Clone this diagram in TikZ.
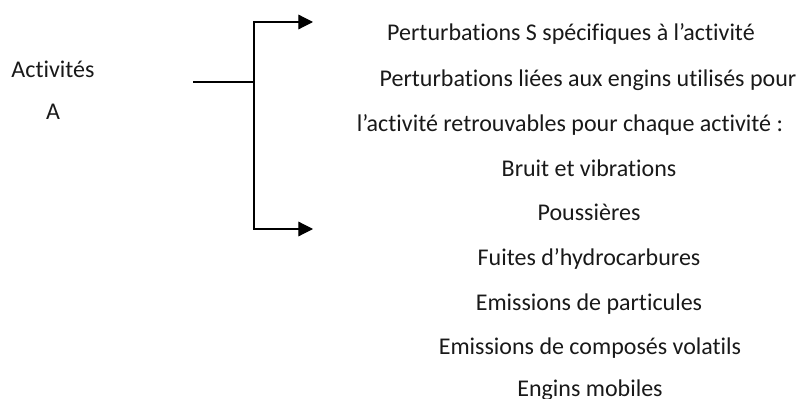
\documentclass[tikz,border=0pt]{standalone}
\usepackage{fontspec}
\setmainfont{Carlito}[Ligatures=NoCommon]
\usepackage{tikz}
\usetikzlibrary{arrows.meta}

\begin{document}
\begin{tikzpicture}[x=.75pt,y=-.75pt,
  txt/.style={draw=none,anchor=base,inner sep=0pt,text=black!90,font=\fontsize{18}{21}\selectfont},
  branch/.style={line width=.9pt,-{Triangle[length=11pt,width=11pt]}}]
             \useasboundingbox (0,0) rectangle (800,399);

             \node[txt] (act) at (53, 78) {Activités};
             \node[txt] (actA) at (53, 120) {A};

             \node[txt] (spec) at (571, 41) {Perturbations S spécifiques à l’activité};
             \node[txt] (engA) at (588, 87) {Perturbations liées aux engins utilisés pour};
             \node[txt] (engB) at (570, 132) {l’activité retrouvables pour chaque activité :};
             \node[txt] (bruit) at (589, 177) {Bruit et vibrations};
             \node[txt] (pouss) at (589, 221) {Poussières};
             \node[txt] (fuite) at (589, 265) {Fuites d’hydrocarbures};
             \node[txt] (part) at (589, 310) {Emissions de particules};
             \node[txt] (vol) at (590, 354) {Emissions de composés volatils};
             \node[txt] (mob) at (590, 396) {Engins mobiles};

             \coordinate (stem) at (193, 82);
             \coordinate (fork) at (254, 82);
             \coordinate (up) at (254, 22);
             \coordinate (down) at (254, 229);
             \coordinate (upend) at (313, 22);
             \coordinate (downend) at (313, 229);

             \draw[line width=.9pt] (stem) -- (fork);
             \draw[branch] (fork) -- (up) -- (upend);
             \draw[branch] (fork) -- (down) -- (downend);
             \end{tikzpicture}
\end{document}
